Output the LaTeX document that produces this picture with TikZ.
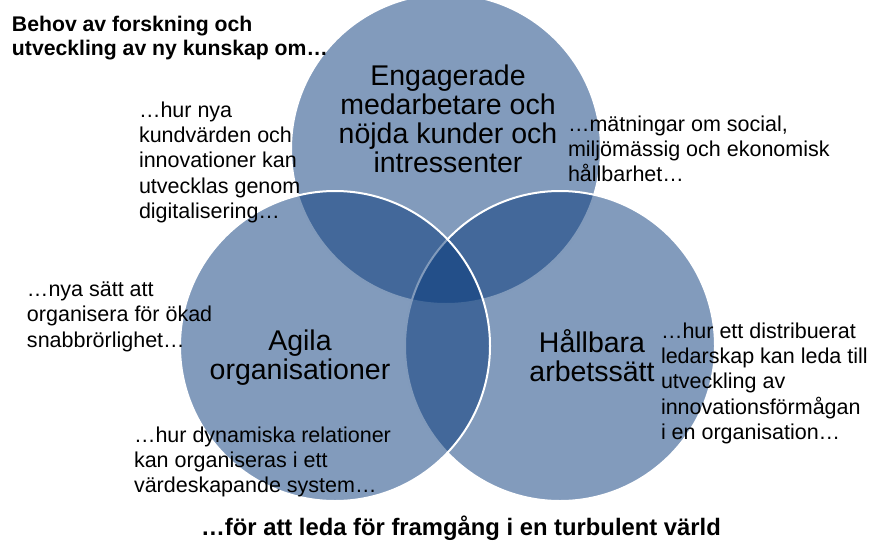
\documentclass[tikz,border=0pt]{standalone}
\usepackage{fontspec}
\setmainfont{Liberation Sans}
\definecolor{venn}{RGB}{5,55,121}
\tikzset{
  venncircle/.style={circle, fill=venn, fill opacity=0.5, draw=white, line width=2pt, minimum size=310pt, inner sep=0pt},
  note/.style={anchor=north west, inner sep=0pt, outer sep=0pt, align=left, font=\fontsize{21.5}{25.4}\selectfont},
  vlabel/.style={anchor=north, inner sep=0pt, outer sep=0pt, align=center, font=\fontsize{28.5}{29}\selectfont},
  headline/.style={anchor=north west, inner sep=0pt, outer sep=0pt, align=left, font=\fontsize{21.2}{24}\selectfont\bfseries},
  footline/.style={anchor=base, inner sep=0pt, outer sep=0pt, font=\fontsize{23.8}{26}\selectfont\bfseries}
}
\begin{document}
\begin{tikzpicture}[x=1pt,y=-1pt]
\useasboundingbox (0,0) rectangle (869,541);
% circles: top, right, left (left drawn last)
\node[venncircle] (ctop) at (446,149) {};
\node[venncircle] (cright) at (560,346) {};
\node[venncircle] (cleft) at (335,346) {};
% circle labels
\node[vlabel] (ltop) at (448,64.6) {Engagerade\\medarbetare och\\nöjda kunder och\\intressenter};
\node[vlabel] (lleft) at (300,329.6) {Agila\\organisationer};
\node[vlabel] (lright) at (592,330) {Hållbara\\arbetssätt};
% heading and footer
\node[headline] (head) at (12,16) {Behov av forskning och\\utveckling av ny kunskap om…};
\node[footline] (foot) at (461,535) {…för att leda för framgång i en turbulent värld};
% notes
\node[note] (na) at (139,101.6) {…hur nya\\kundvärden och\\innovationer kan\\utvecklas genom\\digitalisering…};
\node[note] (nb) at (568,115.6) {…mätningar om social,\\miljömässig och ekonomisk\\hållbarhet…};
\node[note] (nc) at (27,281.6) {…nya sätt att\\organisera för ökad\\snabbrörlighet…};
\node[note] (nd) at (134,426.6) {…hur dynamiska relationer\\kan organiseras i ett\\värdeskapande system…};
\node[note] (ne) at (661,322.6) {…hur ett distribuerat\\ledarskap kan leda till\\utveckling av\\innovationsförmågan\\i en organisation…};
\end{tikzpicture}
\end{document}
